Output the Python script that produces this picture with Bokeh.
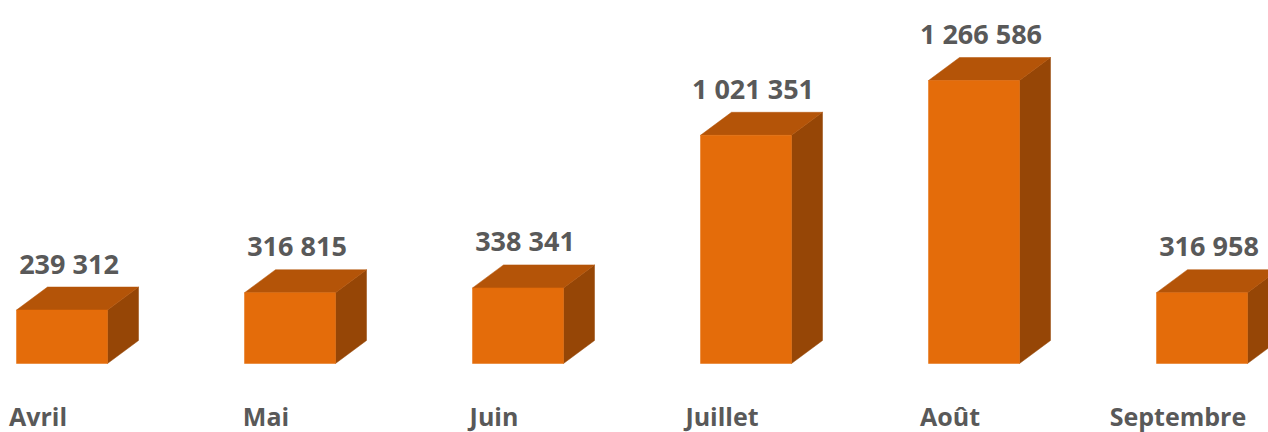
from bokeh.plotting import figure
from bokeh.models import ColumnDataSource, Range1d
from bokeh.core.properties import value
from bokeh.embed import file_html
from bokeh.resources import INLINE

categories = ["Avril", "Mai", "Juin", "Juillet", "Août", "Septembre"]
values = [239312, 316815, 338341, 1021351, 1266586, 316958]
labels = ["239 312", "316 815", "338 341", "1 021 351", "1 266 586", "316 958"]

W, H = 1268, 432
px_per_cat = 228.0
px_per_val = 283.0 / 1266586.0
x0 = -61.5 / px_per_cat
y_top = 363.0 / px_per_val
y_bot = y_top - H / px_per_val

p = figure(width=W, height=H, output_backend="svg", toolbar_location=None,
           x_range=Range1d(x0, x0 + W / px_per_cat), y_range=Range1d(y_bot, y_top),
           min_border=0)
p.axis.visible = False
p.grid.visible = False
p.outline_line_color = None
p.background_fill_color = "white"

half = 45.5 / px_per_cat
dx = 31.0 / px_per_cat
dy = 23.0 / px_per_val

front_xs, front_ys, top_xs, top_ys, side_xs, side_ys = [], [], [], [], [], []
for i, v in enumerate(values):
    l, r = i - half, i + half
    front_xs.append([l, r, r, l]); front_ys.append([0, 0, v, v])
    top_xs.append([l, r, r + dx, l + dx]); top_ys.append([v, v, v + dy, v + dy])
    side_xs.append([r, r + dx, r + dx, r]); side_ys.append([0, dy, v + dy, v])

p.patches(side_xs, side_ys, fill_color="#964606", line_color="#964606", line_width=0.5)
p.patches(top_xs, top_ys, fill_color="#B45408", line_color="#B45408", line_width=0.5)
p.patches(front_xs, front_ys, fill_color="#E46C0A", line_color="#E46C0A", line_width=0.5)

idx = list(range(len(values)))
src = ColumnDataSource(dict(x=[i + 7.0 / px_per_cat for i in idx],
                            y=[v + 47.0 / px_per_val for v in values], t=labels))
p.text("x", "y", text="t", source=src, text_align="center", text_baseline="middle",
       text_font=value("Open Sans"), text_font_style="bold", text_font_size="27px",
       text_color="#595959")

csrc = ColumnDataSource(dict(x=[i - 24.0 / px_per_cat for i in idx],
                             y=[-52.0 / px_per_val] * len(idx), t=categories))
p.text("x", "y", text="t", source=csrc, text_align="center", text_baseline="middle",
       text_font=value("Open Sans"), text_font_style="bold", text_font_size="25px",
       text_color="#595959")

open("out.html", "w").write(file_html(p, INLINE))
